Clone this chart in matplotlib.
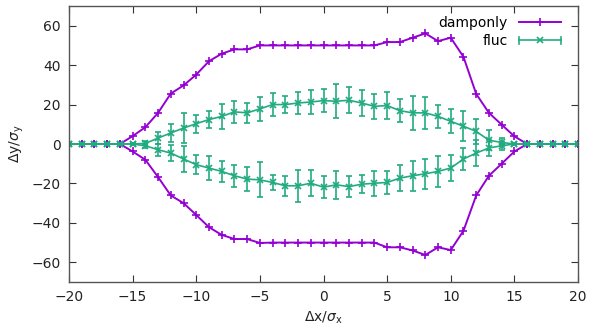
import numpy as np
import matplotlib
matplotlib.use("Agg")
import matplotlib.pyplot as plt
from matplotlib.legend_handler import HandlerBase
from matplotlib.lines import Line2D

x = list(range(-20, 21))

damp_upper = [0, 0, 0, 0, 0, 4, 8.5, 15.8, 25.6, 29.7, 35.2, 42, 45.8, 48, 48, 50,
              50, 50, 50, 50, 50, 50, 50, 50, 50, 51.7, 51.7, 53.9, 56.1, 52.2, 53.9,
              44.2, 25.4, 15.8, 9.8, 3.9, 0, 0, 0, 0, 0]
damp_lower = [0, 0, 0, 0, 0, -3.8, -8, -16.8, -26.1, -30, -36, -42.2, -46.1, -48.2, -48.2, -50.2,
              -50, -50, -50, -50, -50, -50, -50, -50, -50, -52.4, -52.4, -54, -56.3, -52.4, -53.8,
              -44, -26.1, -16.1, -10, -3.8, 0, 0, 0, 0, 0]

fluc_upper = [0, 0, 0, 0, 0, 0, 0.3, 3, 5.6, 8.1, 10.3, 12.4, 14, 16.3, 15.8, 17.8,
              20, 20, 20.8, 21.3, 22, 21.7, 22.2, 20.8, 19.1, 19.5, 16.9, 15.8, 15.8, 14, 11.5,
              9, 6.4, 1.9, 0.8, 0, 0, 0, 0, 0, 0]
fluc_upper_err = [0.3, 0.3, 0.3, 0.3, 0.3, 0.5, 1, 3, 4.5, 7.6, 4.5, 4.5, 6.5, 5.5, 5, 6,
                  5.8, 4.4, 5.5, 6.3, 5.8, 8.5, 6.5, 6.8, 6.2, 6.8, 5.8, 8.7, 8, 6, 6.1,
                  7.6, 6.4, 5, 2, 0.5, 0.3, 0.3, 0.3, 0.3, 0.3]
fluc_lower = [0, 0, 0, 0, 0, 0, -0.9, -2.9, -4.6, -7.6, -10.5, -12.2, -13.9, -16.1, -17.8, -18.2,
              -19.5, -21.2, -21.2, -19.9, -21.9, -20.7, -21.6, -20.4, -19.9, -19.5, -17.3, -16.1, -15.1, -13.9, -12.2,
              -7.6, -4.6, -2.0, -0.9, 0, 0, 0, 0, 0, 0]
fluc_lower_err = [0.3, 0.3, 0.3, 0.3, 0.3, 0.5, 1, 3, 4, 6.4, 4.7, 5.9, 5.5, 5.5, 5.9, 8.9,
                  4, 5.1, 8, 6.6, 5.5, 7.2, 5.5, 4.6, 6.4, 5.7, 6.5, 7.6, 7.6, 8, 6.4,
                  5.8, 6.4, 4.2, 2, 0.5, 0.3, 0.3, 0.3, 0.3, 0.3]

xticks = [-20, -15, -10, -5, 0, 5, 10, 15, 20]
yticks = [-60, -40, -20, 0, 20, 40, 60]

purple = "#9400d3"
green = "#22ab80"


class HandlerErrLegend(HandlerBase):
    def create_artists(self, legend, orig_handle, xdescent, ydescent, width, height,
                       fontsize, trans):
        y = height / 2 - ydescent
        x0, x1 = -xdescent, width - xdescent
        c = orig_handle.get_color()
        line = Line2D([x0, x1], [y, y], color=c, lw=1.2, transform=trans)
        cap0 = Line2D([x0, x0], [y - 2.5, y + 2.5], color=c, lw=1.2, transform=trans)
        cap1 = Line2D([x1, x1], [y - 2.5, y + 2.5], color=c, lw=1.2, transform=trans)
        mk = Line2D([(x0 + x1) / 2], [y], color=c, marker='x', ms=5, mew=1.2,
                    ls='none', transform=trans)
        return [line, cap0, cap1, mk]


fig = plt.figure(figsize=(5.89, 3.32), dpi=100)
ax = fig.add_axes([69/589, 1-282/332, (578-69)/589, (282-6)/332])

h1, = ax.plot(x, damp_upper, color=purple, lw=1.4, marker='+', ms=6, mew=1.2, label='damponly')
ax.plot(x, damp_lower, color=purple, lw=1.4, marker='+', ms=6, mew=1.2)
ax.errorbar(x, fluc_upper, yerr=fluc_upper_err, color=green, lw=1.2, marker='x', ms=5,
            mew=1.2, elinewidth=1.2, capsize=2.5, capthick=1.2)
ax.errorbar(x, fluc_lower, yerr=fluc_lower_err, color=green, lw=1.2, marker='x', ms=5,
            mew=1.2, elinewidth=1.2, capsize=2.5, capthick=1.2)

ax.set_xlim(-20, 20)
ax.set_ylim(-70, 70)
ax.set_xticks(xticks)
ax.set_yticks(yticks)
ax.tick_params(direction='in', top=True, right=True, length=5, labelsize=10,
               colors='#333333', labelcolor='#222222', pad=6)
for s in ax.spines.values():
    s.set_color('#555555')
    s.set_linewidth(1.0)

ax.set_xlabel(r'$\Delta$x/$\sigma_\mathregular{x}$', fontsize=10, color='#222222', labelpad=4)
ax.set_ylabel(r'$\Delta$y/$\sigma_\mathregular{y}$', fontsize=10, color='#222222', labelpad=4)

h2 = Line2D([], [], color=green)
leg = ax.legend([h1, h2], ['damponly', 'fluc'], loc='upper right', frameon=False,
                bbox_to_anchor=(0.985, 1.0),
                markerfirst=False, fontsize=10, handlelength=3.0, borderaxespad=0.3,
                labelspacing=0.3, handletextpad=0.8,
                handler_map={h2: HandlerErrLegend()})

fig.savefig('out.png', dpi=100)
